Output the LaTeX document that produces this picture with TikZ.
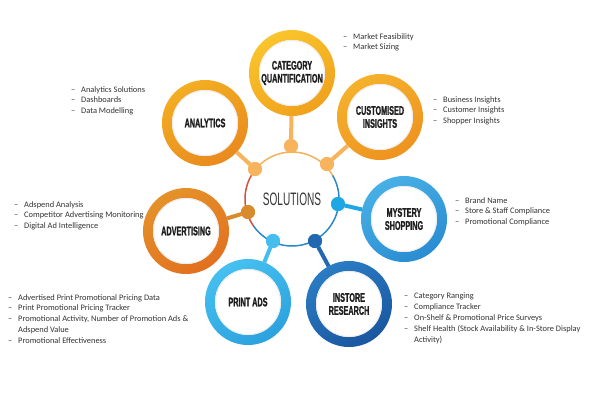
\documentclass[tikz,border=0pt]{standalone}
\usepackage{fontspec}
\setmainfont{Carlito}
\newfontfamily\headfont[FakeStretch=0.58, BoldFeatures={FakeBold=1.2}]{Liberation Sans}
\newfontfamily\solfont[FakeStretch=0.56]{Liberation Sans}
\definecolor{txtdark}{HTML}{1E1E1E}
\definecolor{txtlist}{HTML}{333333}
\definecolor{cqA}{HTML}{F9C52C}\definecolor{cqB}{HTML}{F0A11C}
\definecolor{ciA}{HTML}{F5B12C}\definecolor{ciB}{HTML}{EE931F}
\definecolor{anA}{HTML}{F3AE22}\definecolor{anB}{HTML}{E98A1E}
\definecolor{adA}{HTML}{E4922A}\definecolor{adB}{HTML}{E2701F}
\definecolor{msA}{HTML}{47B0E6}\definecolor{msB}{HTML}{2A8CD2}
\definecolor{paA}{HTML}{45C0F0}\definecolor{paB}{HTML}{2CA2DE}
\definecolor{irA}{HTML}{2A7CC4}\definecolor{irB}{HTML}{1A57A0}
\definecolor{dotO}{HTML}{F7B45C}
\definecolor{dotA}{HTML}{D98A2A}
\definecolor{dotM}{HTML}{1DA8E5}
\definecolor{dotP}{HTML}{45BDEE}
\definecolor{dotI}{HTML}{2268B0}
\definecolor{arcO}{HTML}{F4B25C}
\definecolor{arcR}{HTML}{D5503E}
\definecolor{arcB}{HTML}{2C86C8}
\newcommand\li[1]{\makebox[10pt][l]{–}#1}
\newcommand\cont[1]{\hspace*{10pt}#1}
\tikzset{
  ring/.style 2 args={circle, inner sep=0pt, outer sep=0pt, minimum size=86pt,
    shade, top color=#1, bottom color=#2, shading angle=30,
    path picture={\fill[white] (path picture bounding box.center) circle (33pt);
      \draw[black!7, line width=1pt] (path picture bounding box.center) circle (32.5pt);},
    align=center, text=txtdark,
    font=\headfont\bfseries\fontsize{12.5}{13}\selectfont},
  dotnode/.style={circle, inner sep=0pt, outer sep=0pt, minimum size=14pt, fill=#1},
  conn/.style={line width=4pt, draw=#1},
  listtxt/.style={anchor=north west, inner sep=0pt, align=left, text=txtlist,
    font=\fontsize{8.4}{10.8}\selectfont}
}
\begin{document}
\begin{tikzpicture}[x=1pt, y=-1pt]
\useasboundingbox (0,0) rectangle (600,400);
\fill[white] (0,0) rectangle (600,400);

% center
\node[circle, fill=white, minimum size=94pt, inner sep=0pt, outer sep=0pt,
  text=txtdark!90, font=\solfont\fontsize{18}{18}\selectfont] (sol) at (292,199) {SOLUTIONS};

% dots
\node[dotnode=dotO] (dT) at (291,146) {};
\node[dotnode=dotO] (dTR) at (327,164) {};
\node[dotnode=dotO] (dTL) at (255,169) {};
\node[dotnode=dotA] (dL) at (248,212) {};
\node[dotnode=dotM] (dR) at (338,204) {};
\node[dotnode=dotP] (dBL) at (273,241) {};
\node[dotnode=dotI] (dBR) at (315,241) {};

% rings
\node[ring={cqA}{cqB}] (cq) at (292,73) {CATEGORY\\QUANTIFICATION};
\node[ring={ciA}{ciB}] (ci) at (380,117) {CUSTOMISED\\INSIGHTS};
\node[ring={anA}{anB}] (an) at (205,123) {ANALYTICS};
\node[ring={adA}{adB}] (ad) at (186,231) {ADVERTISING};
\node[ring={msA}{msB}] (ms) at (404,219) {MYSTERY\\SHOPPING};
\node[ring={paA}{paB}] (pa) at (248,302) {PRINT ADS};
\node[ring={irA}{irB}] (ir) at (349,304) {INSTORE\\RESEARCH};

% connectors
\draw[conn=dotO] (dT) -- (cq);
\draw[conn=dotO] (dTR) -- (ci);
\draw[conn=dotO] (dTL) -- (an);
\draw[conn=dotA] (dL) -- (ad);
\draw[conn=dotM] (dR) -- (ms);
\draw[conn=dotP] (dBL) -- (pa);
\draw[conn=dotI] (dBR) -- (ir);

% center outline arcs
\draw[arcO, line width=1.5pt] (sol.30) arc (30:150:47pt);
\draw[arcR, line width=1.5pt] (sol.150) arc (150:215:47pt);
\draw[arcB, line width=1.5pt] (sol.215) arc (215:390:47pt);
\node[dotnode=dotO] at (dT) {};
\node[dotnode=dotO] at (dTR) {};
\node[dotnode=dotO] at (dTL) {};
\node[dotnode=dotA] at (dL) {};
\node[dotnode=dotM] at (dR) {};
\node[dotnode=dotP] at (dBL) {};
\node[dotnode=dotI] at (dBR) {};

% lists
\node[listtxt] (lcq) at (343,33) {\li{Market Feasibility}\\\li{Market Sizing}};
\node[listtxt] (lci) at (433,96) {\li{Business Insights}\\\li{Customer Insights}\\\li{Shopper Insights}};
\node[listtxt] (lan) at (71,86) {\li{Analytics Solutions}\\\li{Dashboards}\\\li{Data Modelling}};
\node[listtxt] (lad) at (14,201) {\li{Adspend Analysis}\\\li{Competitor Advertising Monitoring}\\\li{Digital Ad Intelligence}};
\node[listtxt] (lms) at (455,197) {\li{Brand Name}\\\li{Store \& Staff Compliance}\\\li{Promotional Compliance}};
\node[listtxt] (lpa) at (8,294) {\li{Advertised Print Promotional Pricing Data}\\\li{Print Promotional Pricing Tracker}\\\li{Promotional Activity, Number of Promotion Ads \&}\\\cont{Adspend Value}\\\li{Promotional Effectiveness}};
\node[listtxt] (lir) at (404,293) {\li{Category Ranging}\\\li{Compliance Tracker}\\\li{On-Shelf \& Promotional Price Surveys}\\\li{Shelf Health (Stock Availability \& In-Store Display}\\\cont{Activity)}};
\end{tikzpicture}
\end{document}
